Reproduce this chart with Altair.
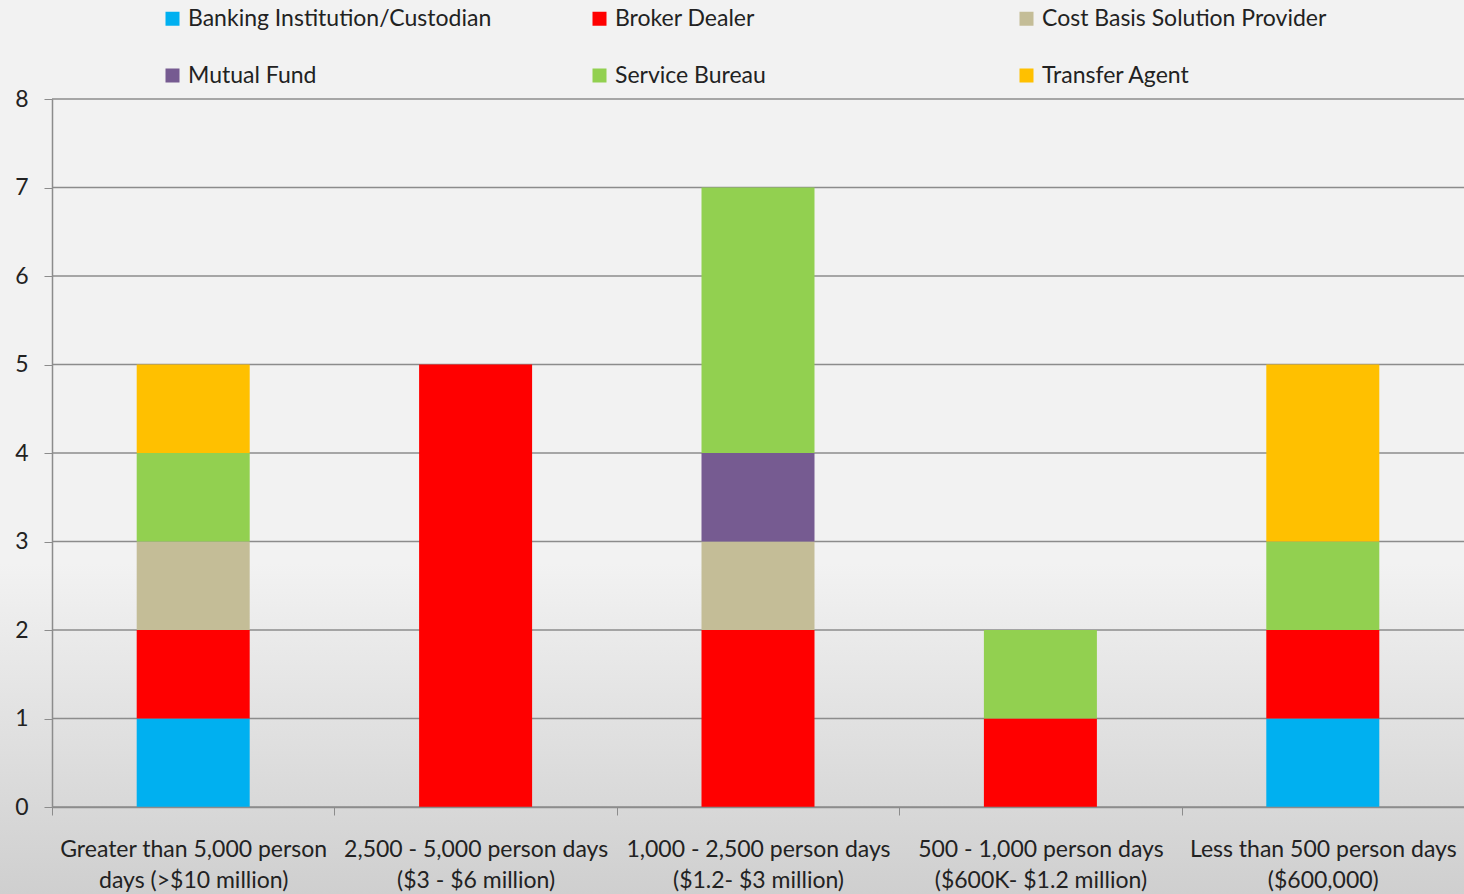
import altair as alt
import pandas as pd

# Project size buckets (x axis), two-line labels split on "|"
categories = [
    "Greater than 5,000 person|days (>$10 million)",
    "2,500 - 5,000 person days|($3 - $6 million)",
    "1,000 - 2,500 person days|($1.2- $3 million)",
    "500 - 1,000 person days|($600K- $1.2 million)",
    "Less than 500 person days|($600,000)",
]

# Respondent types, bottom of stack first
series = [
    "Banking Institution/Custodian",
    "Broker Dealer",
    "Cost Basis Solution Provider",
    "Mutual Fund",
    "Service Bureau",
    "Transfer Agent",
]
colors = ["#00b0f0", "#ff0000", "#c4bd97", "#765b91", "#92d050", "#ffc000"]

# Counts per respondent type, one value per bucket
banking = [1, 0, 0, 0, 1]
broker = [1, 5, 2, 1, 1]
cost_basis = [1, 0, 1, 0, 0]
mutual_fund = [0, 0, 1, 0, 0]
service_bureau = [1, 0, 3, 1, 1]
transfer_agent = [1, 0, 0, 0, 2]

y_ticks = list(range(0, 9))

values = [banking, broker, cost_basis, mutual_fund, service_bureau, transfer_agent]
rows = []
for si, (name, vals) in enumerate(zip(series, values)):
    for cat, v in zip(categories, vals):
        rows.append({"bucket": cat, "type": name, "count": v, "order": si})
df = pd.DataFrame(rows)

W, H = 1412, 708
PAD_L, PAD_T, PAD_R, PAD_B = 52, 99, 0, 87
FONT = "Lato"
FS = 23
TEXT = "#222222"
AXIS_GREY = "#8c8c8c"

y_scale = alt.Scale(domain=[0, 8], nice=False)
y_axis = alt.Axis(
    title=None,
    values=y_ticks,
    labelFont=FONT,
    labelFontSize=FS,
    labelColor=TEXT,
    labelPadding=16,
    tickSize=8,
    tickColor=AXIS_GREY,
    domainColor=AXIS_GREY,
    domainWidth=1.5,
    grid=False,
    zindex=1,
)

# Full-canvas backdrop: flat light grey fading darker toward the bottom
backdrop = alt.Chart(alt.Data(values=[{}])).mark_rect(
    color=alt.Gradient(
        gradient="linear",
        x1=0, x2=0, y1=0, y2=1,
        stops=[
            alt.GradientStop(color="#f2f2f2", offset=0),
            alt.GradientStop(color="#f2f2f2", offset=0.63),
            alt.GradientStop(color="#cfcfcf", offset=1),
        ],
    )
).encode(
    x=alt.value(-PAD_L),
    x2=alt.value(W + PAD_R),
    y=alt.value(-PAD_T),
    y2=alt.value(H + PAD_B),
)

# Grid lines sit above the backdrop but below the bars
grid = alt.Chart(alt.Data(values=[{"count": v} for v in y_ticks])).mark_rule(
    color=AXIS_GREY, strokeWidth=1.5
).encode(
    y=alt.Y("count:Q", scale=y_scale, axis=y_axis),
    x=alt.value(0),
    x2=alt.value(W),
)

bars = alt.Chart(df).mark_bar(size=113).encode(
    x=alt.X(
        "bucket:N",
        sort=categories,
        scale=alt.Scale(paddingInner=0, paddingOuter=0),
        axis=alt.Axis(
            title=None,
            labelAngle=0,
            labelExpr="split(datum.label, '|')",
            labelFont=FONT,
            labelFontSize=FS,
            labelColor=TEXT,
            labelLineHeight=31,
            labelPadding=23,
            labelLimit=0,
            labelOverlap=False,
            tickBand="extent",
            tickSize=8,
            tickColor=AXIS_GREY,
            domainColor=AXIS_GREY,
            domainWidth=1.5,
            grid=False,
            zindex=1,
        ),
    ),
    y=alt.Y("count:Q", stack="zero", scale=y_scale, axis=y_axis),
    color=alt.Color(
        "type:N",
        sort=series,
        scale=alt.Scale(domain=series, range=colors),
        legend=alt.Legend(
            title=None,
            orient="none",
            legendX=109,
            legendY=-92,
            columns=3,
            direction="horizontal",
            gridAlign="all",
            columnPadding=96,
            rowPadding=33,
            padding=0,
            symbolType="square",
            symbolSize=196,
            symbolStrokeWidth=0,
            labelFont=FONT,
            labelFontSize=FS,
            labelColor=TEXT,
            labelOffset=4,
            labelLimit=0,
        ),
    ),
    order=alt.Order("order:Q", sort="ascending"),
)

chart = (
    alt.layer(backdrop, grid, bars)
    .resolve_scale(y="shared")
    .properties(
        width=W,
        height=H,
        autosize=alt.AutoSizeParams(type="none"),
        padding={"left": PAD_L, "top": PAD_T, "right": PAD_R, "bottom": PAD_B},
        background="#f2f2f2",
    )
    .configure_view(stroke=None)
)

chart.save("out.html", embed_options={"renderer": "svg", "actions": False})
